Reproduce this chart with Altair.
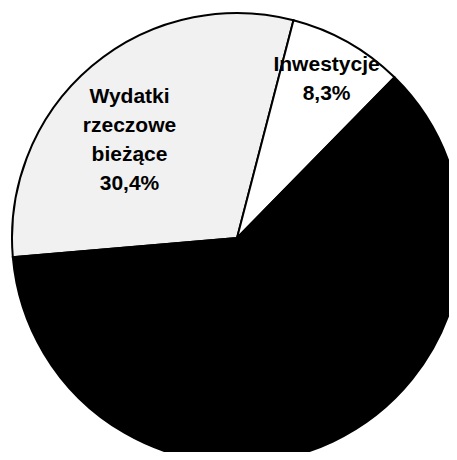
import math
import altair as alt
import pandas as pd

# Data
categories = ["Wydatki rzeczowe bieżące", "Inwestycje", "Wynagrodzenia"]
shares = [30.4, 8.3, 61.3]
labels = ["Wydatki\nrzeczowe\nbieżące\n30,4%", "Inwestycje\n8,3%", ""]
fills = ["#f1f1f1", "#ffffff", "#000000"]
order_idx = [0, 1, 2]

df = pd.DataFrame({
    "category": categories,
    "share": shares,
    "label": labels,
    "idx": order_idx,
})

start = math.radians(265.1)
theta_scale = alt.Scale(range=[start, start + 2 * math.pi])
theta_scale_lab = alt.Scale(domain=[0, 100], range=[start, start + 2 * math.pi])

base = alt.Chart(df)

pie = base.mark_arc(outerRadius=225, stroke="#000000", strokeWidth=2).encode(
    theta=alt.Theta("share:Q", stack=True, scale=theta_scale),
    order=alt.Order("idx:Q"),
    x=alt.value(228),
    y=alt.value(230),
    color=alt.Color("category:N", scale=alt.Scale(domain=categories, range=fills), legend=None),
)

text_style = dict(
    font="Liberation Sans",
    fontWeight="bold",
    fontSize=21,
    lineBreak="\n",
    lineHeight=29,
    color="#000000",
    align="center",
    baseline="middle",
)

stacked = base.transform_stack(
    stack="share", as_=["s0", "s1"], groupby=[], sort=[alt.SortField("idx")]
).transform_calculate(mid="(datum.s0 + datum.s1) / 2")

lab1 = stacked.mark_text(radius=148, dx=-12, dy=-28, **text_style).encode(
    theta=alt.Theta("mid:Q", scale=theta_scale_lab),
    x=alt.value(228),
    y=alt.value(230),
    text="label:N",
).transform_filter(alt.datum.idx == 0)

lab2 = stacked.mark_text(radius=182, dy=-15, **text_style).encode(
    theta=alt.Theta("mid:Q", scale=theta_scale_lab),
    x=alt.value(228),
    y=alt.value(230),
    text="label:N",
).transform_filter(alt.datum.idx == 1)

chart = alt.layer(pie, lab1, lab2).properties(
    width=441,
    height=444,
    autosize=alt.AutoSizeParams(type="fit", contains="padding"),
    padding=0,
).configure_view(stroke=None)

chart.save("out.html", embed_options={"renderer": "svg", "actions": False})
